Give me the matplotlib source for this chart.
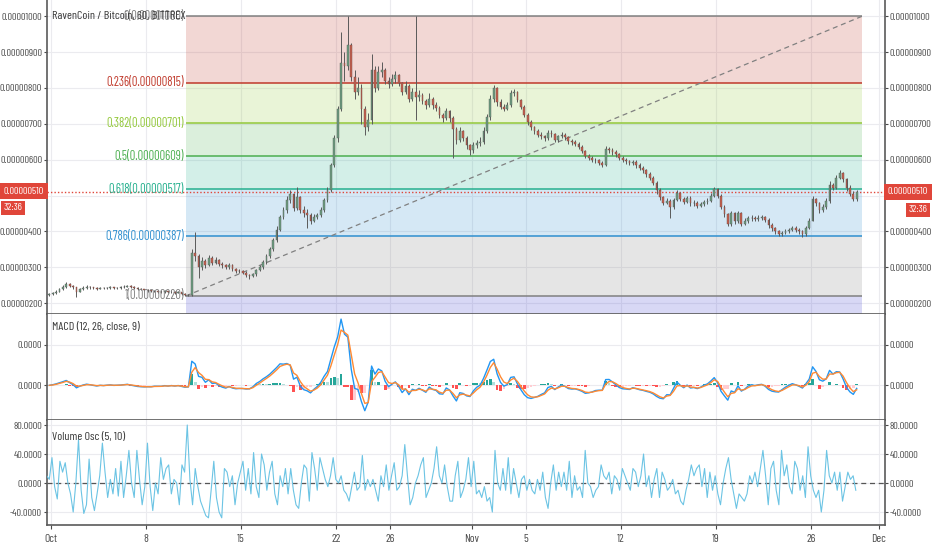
import numpy as np
import pandas as pd
import matplotlib
matplotlib.use('Agg')
import matplotlib.pyplot as plt
from matplotlib import font_manager
from matplotlib.ticker import FuncFormatter

# a narrow font, close to the chart's own
fl = font_manager.fontManager.ttflist
regular = [f for f in fl if f.style == 'normal' and f.weight in (400, 'normal', 'regular')]
fam, fs_tick, fs_lab, fs_x = None, 6.3, 7.5, 6.8
for want in ['Barlow Condensed', 'Barlow Semi Condensed', 'Asap Condensed', 'Archivo Narrow']:
    hit = [f for f in regular if f.name == want]
    if hit:
        fam = want
        plt.rcParams['font.stretch'] = hit[0].stretch
        fs_tick, fs_lab, fs_x = 7.4, 9, 8.3
        break
if fam is None:
    fam = 'DejaVu Sans'
plt.rcParams['font.family'] = [fam, 'DejaVu Sans']

# price data, 6h candles, in satoshi (1e-8 BTC); first candle starts Sep 30 18:00
first_open = 222
close_sat = [225,
    228, 232, 238, 245,  254, 248, 244, 232,  240, 243, 246, 244,  242, 240, 243, 241,
    243, 244, 242, 243,  244, 246, 248, 245,  243, 240, 238, 236,  235, 233, 234, 232,
    231, 233, 230, 232,  229, 231, 226, 222,  222, 340, 330, 300,  318, 305, 325, 312,
    320, 310, 305, 300,  305, 295, 290, 288,  284, 278, 275, 280,  292, 300, 315, 330,
    350, 376, 405, 440,  460, 488, 505, 465,  495, 460, 452, 445,  430, 440, 445, 460,
    488, 515, 585, 660,  740, 870, 860, 920,  830, 790, 800, 740,  690, 710, 850, 800,
    845, 850, 820, 810,  825, 835, 815, 790,  805, 770, 790, 775,  780, 765, 752, 770,
    752, 745, 724, 716,  735, 716, 685, 655,  680, 660, 640, 627,  641, 646, 650, 680,
    720, 770, 800, 760,  748, 742, 752, 785,  790, 766, 748, 725,  705, 690, 680, 670,
    665, 660, 675, 672,  655, 665, 670, 662,  652, 648, 645, 636,  625, 610, 605, 600,
    598, 592, 586, 630,  627, 622, 615, 606,  600, 596, 590, 594,  585, 577, 570, 560,
    550, 535, 515, 496,  480, 484, 468, 488,  508, 490, 482, 494,  478, 480, 472, 476,
    482, 486, 500, 518,  500, 468, 448, 420,  450, 428, 452, 420,  428, 436, 438, 434,
    438, 440, 432, 418,  408, 400, 392, 396,  400, 404, 410, 405,  400, 392, 410, 430,
    490, 478, 460, 468,  485, 530, 522, 550,  562, 545, 520, 505,  490, 510]
high_sat = [228,
    231, 236, 242, 250,  258, 256, 250, 246,  243, 247, 249, 248,  246, 245, 246, 245,
    246, 247, 246, 246,  247, 249, 251, 250,  247, 245, 242, 240,  239, 237, 237, 236,
    235, 236, 234, 235,  234, 234, 232, 228,  226, 352, 398, 336,  328, 322, 334, 330,
    328, 322, 314, 310,  312, 308, 298, 295,  292, 288, 282, 285,  296, 306, 320, 336,
    356, 382, 414, 446,  468, 500, 515, 508,  523, 500, 470, 462,  450, 448, 452, 468,
    494, 525, 592, 670,  750, 955, 900, 1000, 925, 850, 830, 810,  750, 730, 896, 860,
    860, 872, 855, 830,  840, 848, 838, 818,  820, 810, 800, 1000, 795, 785, 770, 785,
    775, 760, 750, 730,  745, 738, 722, 690,  690, 684, 665, 645,  648, 655, 662, 690,
    728, 780, 808, 802,  768, 756, 760, 794,  798, 792, 770, 752,  730, 712, 695, 686,
    676, 670, 682, 682,  675, 670, 678, 674,  666, 658, 654, 648,  640, 628, 615, 610,
    606, 602, 596, 638,  636, 632, 626, 618,  610, 604, 600, 600,  598, 590, 582, 574,
    565, 554, 540, 520,  500, 492, 490, 494,  515, 510, 496, 500,  498, 488, 485, 482,
    488, 494, 508, 524,  522, 504, 474, 452,  458, 455, 458, 455,  436, 444, 445, 444,
    446, 446, 444, 436,  422, 412, 404, 402,  406, 410, 416, 414,  410, 404, 414, 436,
    498, 494, 482, 475,  492, 540, 535, 558,  570, 566, 550, 528,  512, 516]
low_sat = [220,
    222, 226, 230, 236,  243, 246, 240, 216,  230, 237, 240, 240,  239, 237, 238, 238,
    239, 240, 239, 240,  240, 242, 244, 242,  240, 237, 235, 233,  231, 230, 230, 229,
    228, 229, 227, 228,  226, 227, 223, 219,  219, 220, 318, 270,  292, 298, 302, 306,
    308, 304, 298, 294,  296, 290, 285, 283,  280, 272, 268, 272,  276, 288, 296, 310,
    326, 344, 370, 400,  434, 452, 480, 456,  460, 450, 440, 410,  420, 425, 434, 440,
    455, 482, 510, 580,  650, 735, 820, 850,  820, 770, 780, 700,  669, 680, 700, 790,
    795, 830, 810, 800,  805, 815, 805, 780,  782, 760, 765, 710,  765, 755, 740, 748,
    740, 735, 715, 705,  712, 705, 604, 645,  650, 652, 630, 613,  620, 632, 638, 645,
    675, 712, 762, 750,  740, 735, 738, 748,  778, 760, 740, 718,  698, 682, 672, 664,
    658, 652, 656, 664,  648, 650, 660, 655,  645, 640, 638, 630,  618, 604, 598, 594,
    590, 585, 580, 582,  618, 614, 608, 600,  594, 588, 584, 586,  578, 570, 562, 552,
    542, 528, 505, 488,  474, 476, 438, 462,  484, 484, 476, 478,  470, 472, 466, 468,
    470, 476, 482, 496,  494, 462, 440, 414,  416, 420, 424, 414,  418, 424, 430, 428,
    428, 432, 426, 410,  402, 394, 388, 388,  392, 396, 400, 398,  394, 383, 388, 406,
    428, 470, 452, 455,  462, 480, 515, 518,  545, 538, 512, 498,  485, 486]

# Volume oscillator (5, 10), roughly every 4.7h
vol_osc = [10, 5, 35, -5, -22, 30, 15, 28, 0, -15, -40, 0, 60, -10, -42, -30, 33, -20, -38, -15,
    10, 55, 15, -20, 5, -15, 20, -18, 30, -20, 10, 45, 0, -20, 45, 5, -30, -5, 55, -5,
    -38, 0, -15, 35, 5, 20, 25, -15, 5, 0, -30, 25, 15, 80, 5, -30, 20, -5, -25, -35,
    -45, -48, -10, 30, -20, -40, -48, 20, 15, -5, 10, -30, 0, 15, 30, -10, 20, -15, 42, -5,
    -20, 40, 25, -10, 15, 30, -15, -30, 10, -5, 20, -15, 20, -10, -30, -35, 0, 25, 20, -25,
    42, 20, -10, 35, 20, 5, -5, 10, 35, 5, 0, 10, -10, -15, -25, -5, 15, -10, -5, 38,
    -10, 5, -5, 5, -10, -25, 10, -5, 25, -10, 10, 28, -10, -5, 10, 53, 10, -30, -20, 0,
    10, 25, 35, -20, -10, 0, 20, 50, 10, 0, 25, -5, -25, -25,
    10, 30, -20, -10, 5, 35, -5, 30, -15, -10, -20, -5, -25, -20, -40, 45, 0, -10, 20, -10,
    35, -15, 20, 0, -20, 5, 10, -10, 5, -10, -15, 5, -10, 15, -20, -35, 0, 25, -10, 15,
    -5, 15, -10, 30, -20, 10, -10, -5, -20, 45, 0, -5, -20, -10, -5, 25, 10, 5, 15, -15,
    10, 5, -10, 20, 10, 0, -10, 20, 15, -5, 10, 40, -5, 10, -20, 5, 20, -20, 15, 5,
    -10, -5, 5, -15, -10, -25, -30, -10, 5, 25, 10, 20, 25, -5, 20, -20, 15, -10, 10, -15,
    -30, 0, 20, 35, 5, -15, -35, -15, -20, -25, -15, 10, 0, 15, -5, 20, 45, 10, -30, 20,
    30, -10, -30, 45, 10, 25, -5, -15, 30, 20, -10, 10, -20, 50, 10, -10, -20, -10, -40, -10,
    45, 10, 0, 15, -10, 15, -25, -5, 15, 5, 10, -10]

# fib retracement (satoshi)
fib_levels = [0, 0.236, 0.382, 0.5, 0.618, 0.786, 1]
fib_prices = [1000, 815, 701, 609, 517, 387, 220]
fib_colors = ['#808080', '#c0392b', '#93c83a', '#4caf50', '#26b08e', '#2f8fcf', '#808080']
fib_start, fib_end = 9.95, 59.76   # days since Oct 1
last_price = 510

price_ticks = [200, 300, 400, 500, 600, 700, 800, 900, 1000]
day_ticks = [0, 7, 14, 21, 25, 31, 35, 42, 49, 56, 61]
day_labels = ['Oct', '8', '15', '22', '26', 'Nov', '5', '12', '19', '26', 'Dec']

sat = 1e-8
close = np.array(close_sat) * sat
high = np.array(high_sat) * sat
low = np.array(low_sat) * sat
opn = np.concatenate([[first_open * sat], close[:-1]])
t = -0.25 + 0.25 * np.arange(len(close)) + 0.125

# MACD 12/26/9 on hourly bars -> spans in 6h bars
cs = pd.Series(close)
macd = cs.ewm(span=12 / 6, adjust=False).mean() - cs.ewm(span=26 / 6, adjust=False).mean()
signal = macd.ewm(span=2.5, adjust=False).mean()
hist = (macd - signal).values
macd = macd.values
signal = signal.values

W, H = 932, 550
fig = plt.figure(figsize=(W / 100, H / 100), dpi=100)
L, R = 47 / W, 885 / W
ax1 = fig.add_axes([L, 1 - 314 / H, R - L, 314 / H])
ax2 = fig.add_axes([L, 1 - 420 / H, R - L, 106 / H], sharex=ax1)
ax3 = fig.add_axes([L, 1 - 525 / H, R - L, 105 / H], sharex=ax1)

tcol = '#4a4a4a'
for ax in (ax1, ax2, ax3):
    ax.set_facecolor('white')
    ax.grid(True, color='#ebebef', lw=0.8)
    ax.set_axisbelow(True)
    for s in ('left', 'right', 'bottom'):
        ax.spines[s].set_color('#5a5a5a')
        ax.spines[s].set_linewidth(1.2)
    ax.spines['top'].set_visible(False)
    ax.tick_params(axis='y', left=True, right=True, labelleft=True, labelright=True,
                   labelsize=fs_tick, colors=tcol, length=2.5, width=0.8, pad=1)
    ax.tick_params(axis='x', labelsize=fs_x, colors=tcol, length=3)
ax1.tick_params(axis='x', labelbottom=False, length=0)
ax2.tick_params(axis='x', labelbottom=False, length=0)

ax1.set_xlim(-0.295, 61.46)
ax1.set_xticks(day_ticks)
ax3.set_xticklabels(day_labels)

# --- main price panel
ax1.set_ylim(169.4 * sat, 1045.5 * sat)
ax1.set_yticks(np.array(price_ticks) * sat)
# the 500 label sits under the last-price tag, so it is left blank
ax1.set_yticklabels(['' if p == 500 else f'{p * sat:.8f}' for p in price_ticks])

xs = [fib_start, fib_end]
bounds = [p * sat for p in fib_prices] + [ax1.get_ylim()[0]]
band_cols = fib_colors[1:] + ['#3c3cd0']
for i in range(len(bounds) - 1):
    ax1.fill_between(xs, bounds[i + 1], bounds[i], color=band_cols[i], alpha=0.2, lw=0, zorder=1)
for lvl, p, c in zip(fib_levels, fib_prices, fib_colors):
    ax1.hlines(p * sat, fib_start, fib_end, color=c, lw=1.1, zorder=2)
    ax1.text(fib_start - 0.15, p * sat, f'{lvl:g}({p * sat:.8f})', color=c,
             ha='right', va='center', fontsize=fs_lab, zorder=5)
ax1.plot(xs, [fib_prices[-1] * sat, fib_prices[0] * sat], color='#808080',
         ls=(0, (4, 3)), lw=0.9, zorder=2)

ax1.axhline(last_price * sat, color='#e0463a', ls=(0, (1, 1.5)), lw=1, zorder=3)

up = close >= opn
ax1.vlines(t, low, high, color='#5a5a5a', lw=0.7, zorder=3)
body_lo = np.minimum(opn, close)
body_h = np.maximum(np.abs(close - opn), 0.6 * sat)
ax1.bar(t[up], body_h[up], bottom=body_lo[up], width=0.13, color='#6b9e7f',
        edgecolor='#5a5a5a', lw=0.3, zorder=4)
ax1.bar(t[~up], body_h[~up], bottom=body_lo[~up], width=0.13, color='#c8604f',
        edgecolor='#6a4a45', lw=0.3, zorder=4)

ax1.text(0.1, 1000 * sat, 'RavenCoin / Bitcoin, 60, BITTREX', color='#3a3a3a',
         fontsize=fs_lab - 0.3, ha='left', va='center', zorder=6)

# --- MACD panel
ax2.bar(t, hist, width=0.2, zorder=2,
        color=['#26a69a' if h >= 0 and h >= hp else '#b2dfdb' if h >= 0 else
               '#ff5252' if h < hp else '#ffcdd2'
               for h, hp in zip(hist, np.concatenate([[0], hist[:-1]]))])
ax2.plot(t, macd, color='#2196f3', lw=1, zorder=3)
ax2.plot(t, signal, color='#ff8a33', lw=1, zorder=3)
pk = macd.max()
ax2.set_ylim(-pk * 34 / 65, pk * 70 / 65)
ax2.set_yticks([0, pk * 40 / 65])
ax2.yaxis.set_major_formatter(FuncFormatter(lambda v, p: f'{abs(v):.4f}'))
ax2.text(0.1, pk * 57 / 65, 'MACD (12, 26, close, 9)', color='#3a3a3a', fontsize=fs_lab - 0.3,
         ha='left', va='center')

# --- Volume oscillator panel
tv = -0.32 + 0.1955 * np.arange(len(vol_osc))
ax3.plot(tv, vol_osc, color='#6cc4e4', lw=0.8, zorder=3)
ax3.axhline(0, color='#555555', ls=(0, (4, 3)), lw=0.9, zorder=2)
ax3.set_ylim(-57.9, 86.9)
ax3.set_yticks([-40, 0, 40, 80])
ax3.yaxis.set_major_formatter(FuncFormatter(lambda v, p: f'{v:.4f}'))
ax3.text(0.1, 63, 'Volume Osc (5, 10)', color='#3a3a3a', fontsize=fs_lab - 0.3,
         ha='left', va='center')

# last price tags on both axes
red = '#e0463a'
box = dict(boxstyle='square,pad=0.38', fc=red, ec='none')
box2 = dict(boxstyle='square,pad=0.25', fc=red, ec='none')
fig.text(4 / W, 1 - 191 / H, f'{last_price * sat:.8f}', color='white', fontsize=fs_tick,
         ha='left', va='center', bbox=box)
fig.text(4 / W, 1 - 208 / H, '32:36', color='white', fontsize=fs_tick, ha='left', va='center', bbox=box2)
fig.text(928 / W, 1 - 192 / H, f'{last_price * sat:.8f}', color='white', fontsize=fs_tick,
         ha='right', va='center', bbox=box)
fig.text(927 / W, 1 - 210 / H, '32:36', color='white', fontsize=fs_tick, ha='right', va='center', bbox=box2)

fig.savefig('out.png', dpi=100, facecolor='white')
